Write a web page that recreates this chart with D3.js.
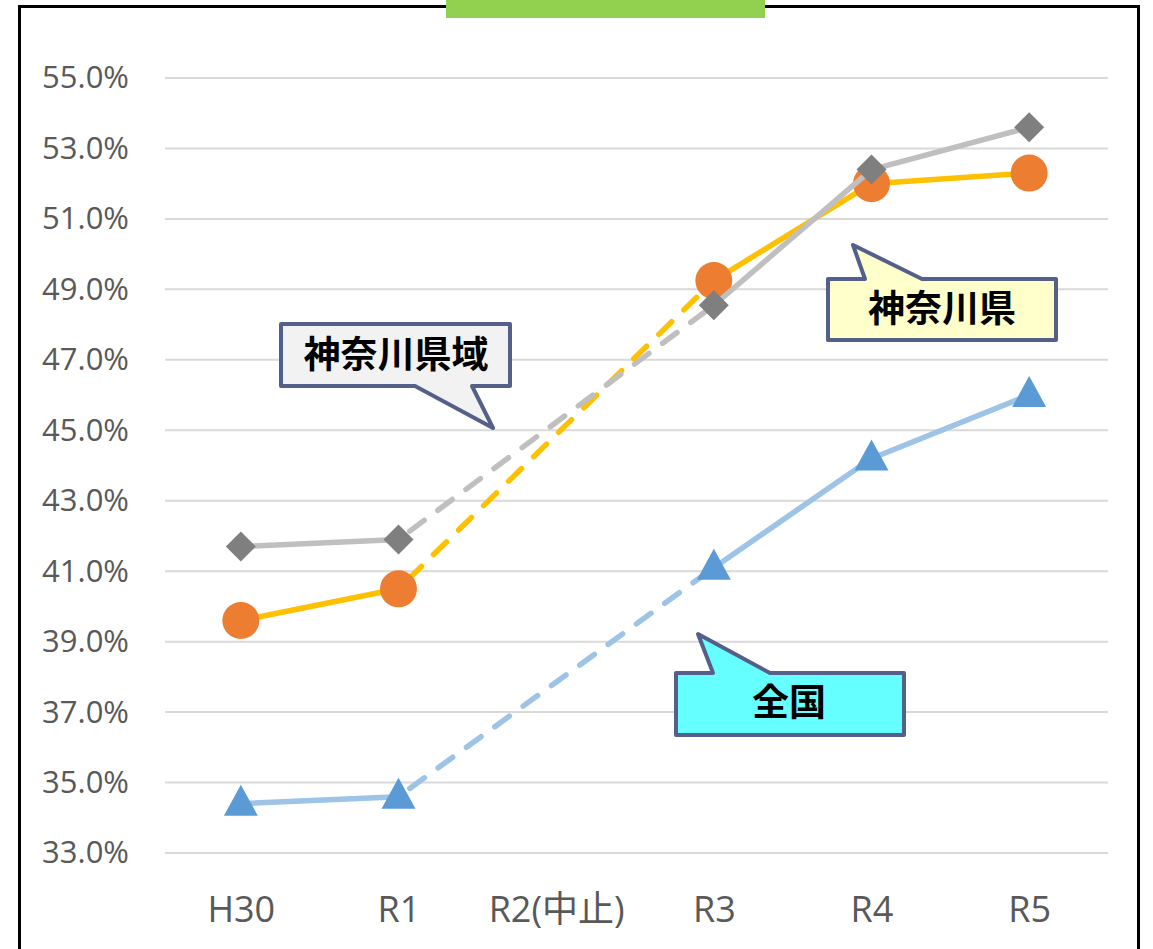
<!DOCTYPE html>
<html>
<head>
<meta charset="utf-8">
<script src="https://cdn.jsdelivr.net/npm/d3@7"></script>
<style>
  html, body { margin: 0; padding: 0; background: #fff; }
  svg { display: block; }
</style>
</head>
<body>
<script>
const categories = ["H30", "R1", "R2(中止)", "R3", "R4", "R5"];
const yTicks = [33, 35, 37, 39, 41, 43, 45, 47, 49, 51, 53, 55];
const kanagawa   = [39.6, 40.5, null, 49.25, 52.0, 52.3];   // 神奈川県
const kenIki     = [41.7, 41.9, null, 48.55, 52.4, 53.6];   // 神奈川県域
const zenkoku    = [34.4, 34.6, null, 41.1, 44.2, 46.0];    // 全国
const seriesNames = ["神奈川県", "神奈川県域", "全国"];

const W = 1153, H = 949;
const svg = d3.select("body").append("svg").attr("width", W).attr("height", H);

// frame
svg.append("rect").attr("x", 19.5).attr("y", 6.5).attr("width", 1119).attr("height", 960)
  .attr("fill", "#fff").attr("stroke", "#000").attr("stroke-width", 3);
svg.append("rect").attr("x", 446).attr("y", 0).attr("width", 319).attr("height", 18).attr("fill", "#92D050");

const x = d3.scalePoint().domain(categories).range([162, 1108]).padding(0.5);
const y = d3.scaleLinear().domain([33, 55]).range([853, 78]);

// gridlines
svg.append("g").selectAll("line").data(yTicks).join("line")
  .attr("x1", 165).attr("x2", 1108)
  .attr("y1", d => y(d)).attr("y2", d => y(d))
  .attr("stroke", "#D9D9D9").attr("stroke-width", 2);

// y axis labels
const yAxis = d3.axisLeft(y).tickValues(yTicks).tickSize(0).tickPadding(0)
  .tickFormat(d => d.toFixed(1) + "%");
const gy = svg.append("g").attr("transform", "translate(129,0)").call(yAxis);
gy.select(".domain").remove();
gy.selectAll("text").attr("font-family", "'Open Sans', 'Noto Sans', sans-serif")
  .attr("font-size", 31).attr("fill", "#595959");

// x axis labels
const xAxis = d3.axisBottom(x).tickSize(0).tickPadding(0);
const gx = svg.append("g").attr("transform", "translate(0,0)").call(xAxis);
gx.select(".domain").remove();
gx.selectAll("text").attr("font-family", "'Open Sans', 'Noto Sans CJK JP', sans-serif")
  .attr("font-size", 36).attr("fill", "#595959")
  .attr("dy", null).attr("y", 922);

const line = d3.line().x(d => x(d.c)).y(d => y(d.v));

function drawSeries(vals, lineColor, markerColor, marker) {
  const pts = categories.map((c, i) => ({ c, v: vals[i] }));
  const valid = pts.filter(p => p.v != null);
  const g = svg.append("g");
  // solid segments between adjacent categories, dashed across gaps
  for (let i = 0; i < valid.length - 1; i++) {
    const a = valid[i], b = valid[i + 1];
    const gap = categories.indexOf(b.c) - categories.indexOf(a.c) > 1;
    g.append("path").attr("d", line([a, b]))
      .attr("fill", "none").attr("stroke", lineColor).attr("stroke-width", 5.5)
      .attr("stroke-linecap", "round")
      .attr("stroke-dasharray", gap ? "18,17" : null)
      .attr("stroke-dashoffset", gap ? -14 : null);
  }
  g.selectAll(".m").data(valid).join("path")
    .attr("transform", d => `translate(${x(d.c)},${y(d.v)})`)
    .attr("d", marker).attr("fill", markerColor);
}

const circle = d3.symbol().type(d3.symbolCircle).size(Math.PI * 18.5 * 18.5)();
const diamond = "M0,-15L15,0L0,15L-15,0Z";
const triangle = "M0,-19L17,12L-17,12Z";

drawSeries(kanagawa, "#FFC000", "#ED7D31", circle);
drawSeries(kenIki, "#BFBFBF", "#7F7F7F", diamond);
drawSeries(zenkoku, "#9DC3E6", "#5B9BD5", triangle);

// callouts
function callout(pathD, fill, label, cx, cy) {
  svg.append("path").attr("d", pathD).attr("fill", fill)
    .attr("stroke", "#546089").attr("stroke-width", 4).attr("stroke-linejoin", "round");
  svg.append("text").attr("x", cx).attr("y", cy).attr("text-anchor", "middle")
    .attr("dominant-baseline", "central")
    .attr("font-family", "'Noto Sans CJK JP', sans-serif").attr("font-weight", 700)
    .attr("font-size", 37).attr("fill", "#000").text(label);
}
// 神奈川県域 (wedge on bottom)
callout("M281,324 L510,324 L510,386 L472,386 L493,428 L415,386 L281,386 Z", "#F1F2F1", seriesNames[1], 396, 352);
// 神奈川県 (wedge on top)
callout("M828,279 L865,279 L853,245 L922,279 L1056,279 L1056,340 L828,340 Z", "#FFFFCC", seriesNames[0], 942, 306);
// 全国 (wedge on top)
callout("M676,673 L713,673 L698,634 L770,673 L904,673 L904,735 L676,735 Z", "#66FFFF", seriesNames[2], 789, 700);
</script>
</body>
</html>
